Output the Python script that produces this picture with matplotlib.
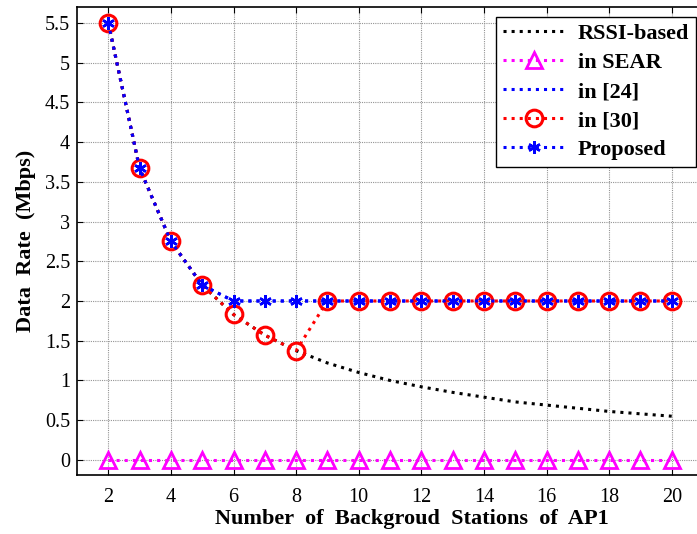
import matplotlib
matplotlib.use("Agg")
from matplotlib import pyplot as plt
import numpy as np

# number of background stations
stations = [2, 3, 4, 5, 6, 7, 8, 9, 10, 11, 12, 13, 14, 15, 16, 17, 18, 19, 20]

# data rate (Mbps)
rssi_based = [5.5, 3.67, 2.75, 2.2, 1.83, 1.57, 1.375, 1.22, 1.1, 1.0, 0.92,
              0.85, 0.79, 0.73, 0.69, 0.65, 0.61, 0.58, 0.55]
in_sear = [0, 0, 0, 0, 0, 0, 0, 0, 0, 0, 0, 0, 0, 0, 0, 0, 0, 0, 0]
in_24 = [5.5, 3.67, 2.75, 2.2, 2, 2, 2, 2, 2, 2, 2, 2, 2, 2, 2, 2, 2, 2, 2]
in_30 = [5.5, 3.67, 2.75, 2.2, 1.83, 1.57, 1.375, 2, 2, 2, 2, 2, 2, 2, 2,
         2, 2, 2, 2]
proposed = [5.5, 3.67, 2.75, 2.2, 2, 2, 2, 2, 2, 2, 2, 2, 2, 2, 2, 2, 2, 2, 2]

xticks = [2, 4, 6, 8, 10, 12, 14, 16, 18, 20]
yticks = [0, 0.5, 1, 1.5, 2, 2.5, 3, 3.5, 4, 4.5, 5, 5.5]
ytick_labels = ['0', '0.5', '1', '1.5', '2', '2.5', '3', '3.5', '4', '4.5',
                '5', '5.5']

plt.rcParams['font.family'] = ['Liberation Serif', 'DejaVu Serif']

fig = plt.figure(figsize=(6.97, 5.34), dpi=100)
ax = fig.add_axes([77 / 697, 59 / 534, 626 / 697, 468 / 534])

lw = 2.2
ax.plot(stations, rssi_based, ':', color='black', lw=lw, label='RSSI-based')
ax.plot(stations, in_sear, ':', color='#FF00FF', lw=lw, marker='^',
        ms=11, mfc='none', mew=2, label='in SEAR')
ax.plot(stations, in_24, ':', color='#0000FF', lw=lw, label='in [24]')
ax.plot(stations, in_30, ':', color='#FF0000', lw=lw, marker='o',
        ms=12, mfc='none', mew=2.2, label='in [30]')
ax.plot(stations, proposed, ':', color='#0000FF', lw=lw, marker=(6, 2, 0),
        ms=9, mew=1.8, label='Proposed')

ax.set_xlim(1, 21)
ax.set_ylim(-0.19, 5.7)
ax.set_xticks(xticks)
ax.set_yticks(yticks)
ax.set_yticklabels(ytick_labels)
ax.tick_params(direction='in', length=4, width=0.8, labelsize=14.5,
               top=True, right=True, pad=5)
ax.tick_params(axis='x', pad=9)
ax.grid(True, color='0.58', linestyle=(0, (1, 1)), lw=0.8)
ax.set_axisbelow(True)
for sp in ax.spines.values():
    sp.set_linewidth(1.2)

ax.set_xlabel('Number  of  Backgroud  Stations  of  AP1', fontsize=16,
              fontweight='bold')
ax.xaxis.set_label_coords(0.535, -0.072)
ax.set_ylabel('Data  Rate  (Mbps)', fontsize=16, fontweight='bold',
              labelpad=6)

leg = ax.legend(loc='upper right', bbox_to_anchor=(0.989, 0.979),
                prop={'size': 16, 'weight': 'bold'}, handlelength=2.8,
                handletextpad=0.6, labelspacing=0.38, borderpad=0.3,
                fancybox=False, framealpha=1, borderaxespad=0)
leg.get_frame().set_edgecolor('black')
leg.get_frame().set_linewidth(1.0)

fig.savefig('out.png', dpi=100)
